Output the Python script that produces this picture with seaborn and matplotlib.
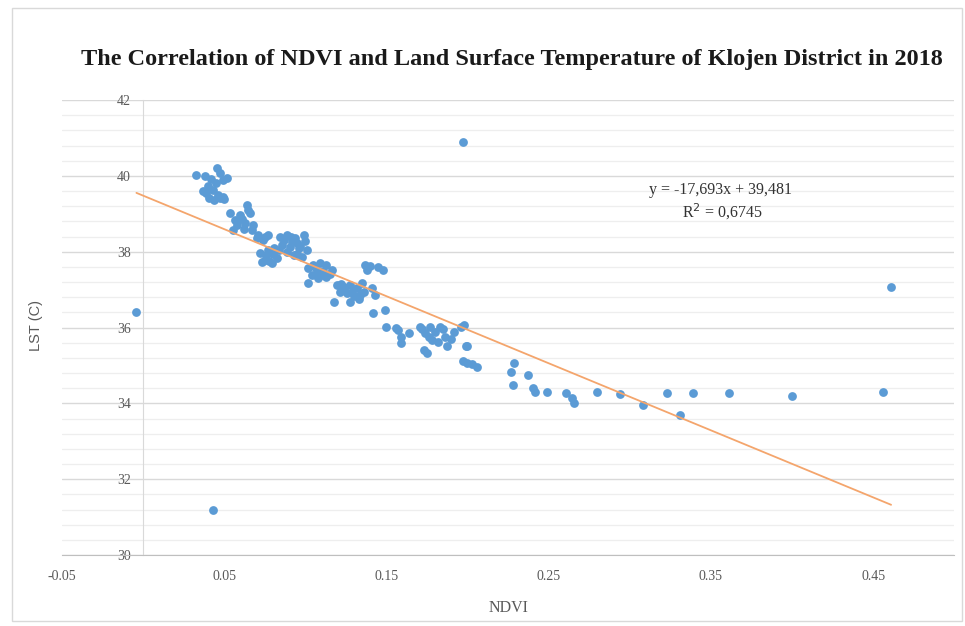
import matplotlib
matplotlib.use("Agg")
import matplotlib.pyplot as plt
import seaborn as sns
import numpy as np
import pandas as pd
from matplotlib.ticker import FixedLocator, MultipleLocator
from matplotlib.patches import Rectangle

# NDVI / LST values
ndvi = [
    # cluster around 0.04
    0.033, 0.038, 0.042, 0.0455, 0.0475, 0.0496, 0.052, 0.040, 0.043, 0.039,
    0.041, 0.044, 0.0475, 0.0496, 0.046, 0.037, 0.045, 0.050,
    # cluster around 0.06
    0.0537, 0.0568, 0.0558, 0.060, 0.064, 0.066, 0.063, 0.067, 0.071, 0.075,
    0.074, 0.0702, 0.058, 0.061, 0.065, 0.068, 0.062, 0.077,
    # cluster around 0.078
    0.0722, 0.0753, 0.0794, 0.0825, 0.0773, 0.0733, 0.076, 0.080, 0.078, 0.081,
    # cluster around 0.09
    0.0846, 0.0887, 0.0938, 0.099, 0.100, 0.0856, 0.0907, 0.0959, 0.0928, 0.098,
    0.0887, 0.0949, 0.087, 0.091, 0.097, 0.084, 0.095, 0.101, 0.092,
    # cluster around 0.11
    0.102, 0.105, 0.109, 0.113, 0.1165, 0.104, 0.108, 0.113, 0.102, 0.107,
    0.111, 0.115, 0.106, 0.110,
    # cluster around 0.13
    0.1195, 0.1237, 0.1278, 0.132, 0.1257, 0.130, 0.134, 0.1278, 0.1216, 0.1175,
    0.135, 0.141, 0.143, 0.124, 0.129, 0.133, 0.122, 0.136,
    0.137, 0.138, 0.145, 0.148, 0.140,
    0.142, 0.149,
    # cluster around 0.175
    0.150, 0.156, 0.159, 0.159, 0.164, 0.171, 0.174, 0.177, 0.180, 0.183,
    0.186, 0.1875, 0.1915, 0.196, 0.173, 0.175, 0.178, 0.182, 0.199, 0.198,
    0.157, 0.190, 0.185, 0.172, 0.176,
    # tail
    0.200, 0.197, 0.200, 0.203, 0.206, 0.2286, 0.227, 0.228, 0.237, 0.2405,
    0.2416, 0.249, 0.2605, 0.2646, 0.2656, 0.280, 0.294, 0.308, 0.323, 0.331,
    0.339, 0.361, 0.400, 0.456, 0.461,
    # outliers
    -0.004, 0.043, 0.1975,
]
lst = [
    40.02, 39.99, 39.93, 40.20, 40.07, 39.89, 39.95, 39.72, 39.63, 39.54,
    39.41, 39.36, 39.41, 39.45, 39.50, 39.60, 39.80, 39.40,
    39.01, 38.84, 38.57, 38.97, 39.23, 39.01, 38.75, 38.57, 38.44, 38.40,
    38.31, 38.35, 38.70, 38.85, 39.10, 38.70, 38.60, 38.45,
    37.96, 37.78, 37.69, 37.83, 38.04, 37.74, 37.90, 37.95, 37.75, 38.10,
    38.40, 38.44, 38.35, 38.44, 38.27, 38.18, 38.13, 38.09, 37.91, 37.87,
    38.00, 38.22, 38.30, 38.38, 38.15, 38.05, 37.95, 38.05, 38.25,
    37.56, 37.65, 37.69, 37.65, 37.52, 37.39, 37.30, 37.34, 37.17, 37.47,
    37.50, 37.40, 37.60, 37.38,
    37.12, 37.08, 37.12, 37.03, 36.90, 36.82, 36.86, 36.68, 36.95, 36.68,
    37.17, 37.03, 36.86, 37.00, 36.95, 36.75, 37.15, 36.95,
    37.65, 37.52, 37.60, 37.52, 37.62,
    36.37, 36.46,
    36.02, 35.98, 35.76, 35.58, 35.85, 36.02, 35.85, 36.02, 35.89, 36.02,
    35.76, 35.50, 35.89, 36.02, 35.41, 35.32, 35.67, 35.63, 35.50, 36.07,
    35.93, 35.70, 35.95, 35.95, 35.75,
    35.51, 35.12, 35.07, 35.03, 34.97, 35.07, 34.83, 34.48, 34.75, 34.40,
    34.31, 34.31, 34.28, 34.13, 34.00, 34.31, 34.24, 33.95, 34.27, 33.69,
    34.27, 34.27, 34.19, 34.29, 37.07,
    36.42, 31.19, 40.89,
]

# trendline reported on the chart
slope = -17.693
intercept = 39.481
r_squared = "0,6745"

x_ticks = [-0.05, 0.05, 0.15, 0.25, 0.35, 0.45]
x_tick_labels = ["-0.05", "0.05", "0.15", "0.25", "0.35", "0.45"]
y_ticks = [30, 32, 34, 36, 38, 40, 42]

df = pd.DataFrame({"NDVI": ndvi, "LST": lst})

sns.set_style("white")
plt.rcParams["font.family"] = ["Liberation Serif", "DejaVu Serif"]

fig = plt.figure(figsize=(9.65, 6.26), dpi=100)
ax = fig.add_axes([0.064, 0.1134, 0.925, 0.7268])

# outer chart frame
fig.patches.append(Rectangle((0.012, 0.008), 0.985, 0.979, transform=fig.transFigure,
                             fill=False, edgecolor="#D9D9D9", linewidth=1.0))

sns.scatterplot(data=df, x="NDVI", y="LST", ax=ax, color="#5B9BD5",
                s=40, edgecolor="#5B9BD5", linewidth=0, zorder=3)

xs = np.array([min(ndvi), max(ndvi)])
ax.plot(xs, slope * xs + intercept, color="#F4A56C", linewidth=1.3, zorder=4)

ax.set_xlim(-0.05, 0.5)
ax.set_ylim(30, 42)
ax.xaxis.set_major_locator(FixedLocator(x_ticks))
ax.set_xticklabels(x_tick_labels)
ax.yaxis.set_major_locator(FixedLocator(y_ticks))
ax.yaxis.set_minor_locator(MultipleLocator(0.4))

ax.grid(axis="y", which="major", color="#D9D9D9", linewidth=1.0, zorder=0)
ax.grid(axis="y", which="minor", color="#EEEEEE", linewidth=0.9, zorder=0)
ax.grid(axis="x", visible=False)

for side in ["top", "right"]:
    ax.spines[side].set_visible(False)
ax.spines["left"].set_position(("data", 0))
ax.spines["left"].set_color("#D9D9D9")
ax.spines["bottom"].set_color("#BFBFBF")
ax.tick_params(axis="both", which="major", length=5, width=1, color="#BFBFBF",
               labelsize=10, labelcolor="#595959", direction="out")
ax.tick_params(axis="y", which="minor", length=0)
ax.tick_params(axis="x", pad=6)

ax.set_xlabel("NDVI", fontsize=11.5, color="#595959", labelpad=12)
ax.set_ylabel("")
fig.text(0.037, 0.48, "LST (C)", rotation=90, fontsize=10.5, color="#595959",
         family=["Liberation Sans", "DejaVu Sans"], ha="center", va="center")

fig.suptitle("The Correlation of NDVI and Land Surface Temperature of Klojen District in 2018",
             x=0.53, y=0.922, fontsize=17.5, fontweight="bold", color="#1a1a1a")

ax.text(0.738, 0.802, "y = -17,693x + 39,481", transform=ax.transAxes,
        ha="center", va="center", fontsize=11.5, color="#333333")
ax.text(0.74, 0.754, "R$^2$ = " + r_squared, transform=ax.transAxes,
        ha="center", va="center", fontsize=11.5, color="#333333")

fig.savefig("out.png", dpi=100)
